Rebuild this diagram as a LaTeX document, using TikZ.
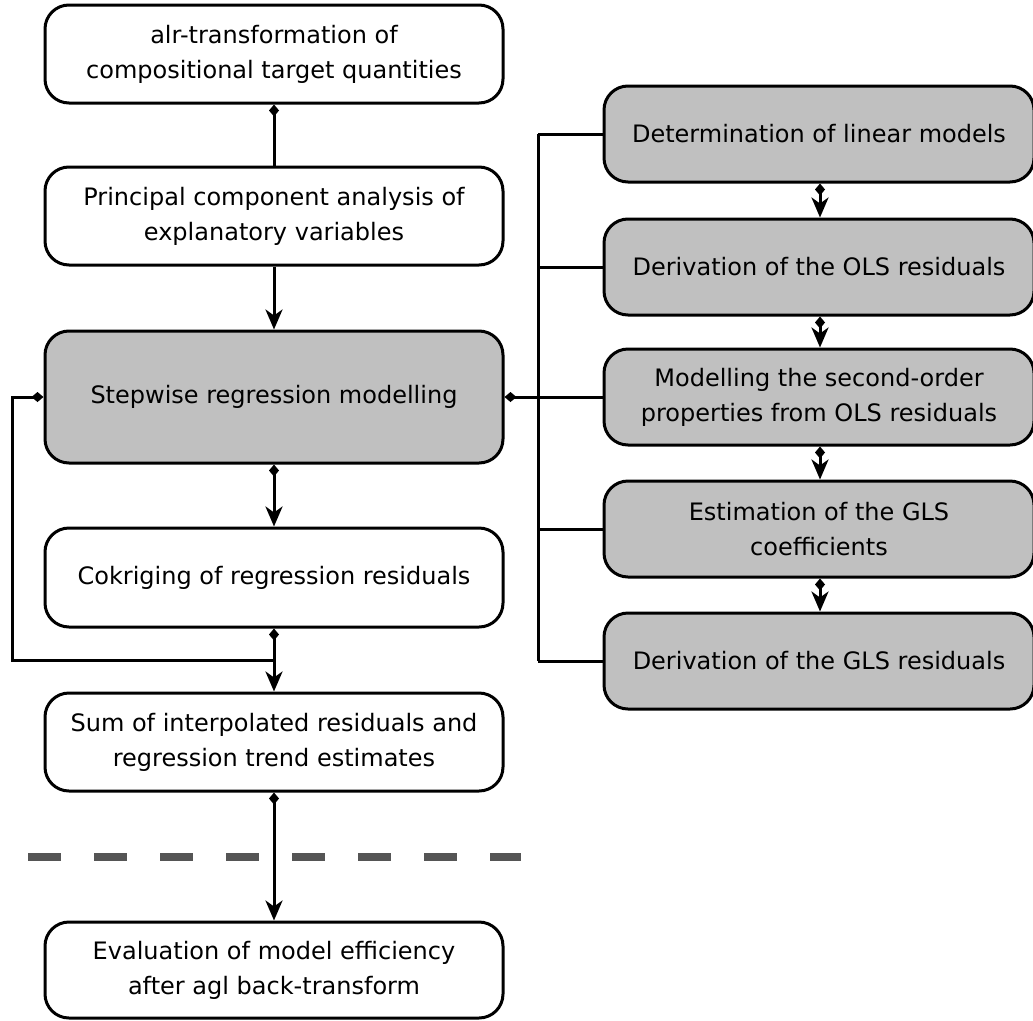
\documentclass[tikz,border=0pt]{standalone}
\usepackage{fontspec}
\setmainfont{DejaVu Sans}
\usetikzlibrary{arrows.meta}
\definecolor{boxgray}{RGB}{192,192,192}
\definecolor{dashgray}{RGB}{85,85,85}
\begin{document}
\begin{tikzpicture}[x=1pt,y=-1pt,
  stepbox/.style={draw=black, line width=3pt, rounded corners=24pt, fill=white,
    align=center, inner sep=0pt, font=\fontsize{24}{35}\selectfont},
  leftbox/.style={stepbox, minimum width=458pt},
  rightbox/.style={stepbox, minimum width=430pt, minimum height=96pt, fill=boxgray},
  link/.style={line width=3pt},
  arrowhead/.style={link, -{Stealth[length=20pt,width=17pt,inset=6pt]}},
  tailmark/.style={{Diamond[length=12pt,width=10pt]}-},
  tailarrow/.style={link, {Diamond[length=12pt,width=10pt]}-{Stealth[length=20pt,width=17pt,inset=6pt]}},
  endmark/.style={link, -{Diamond[length=12pt,width=10pt]}}
]
\useasboundingbox (0,0) rectangle (1033,1020);

% left column
\node[leftbox, minimum height=98pt] (alr) at (274,54) {alr-transformation of\\compositional target quantities};
\node[leftbox, minimum height=98pt] (pca) at (274,216) {Principal component analysis of\\explanatory variables};
\node[leftbox, minimum height=132pt, fill=boxgray] (swr) at (274,397) {Stepwise regression modelling};
\node[leftbox, minimum height=99pt] (ck) at (274,577.5) {Cokriging of regression residuals};
\node[leftbox, minimum height=98pt] (sum) at (274,742) {Sum of interpolated residuals and\\regression trend estimates};
\node[leftbox, minimum height=96pt] (eval) at (274,970) {Evaluation of model efficiency\\after agl back-transform};

% right column
\node[rightbox] (r1) at (819,134) {Determination of linear models};
\node[rightbox] (r2) at (819,267) {Derivation of the OLS residuals};
\node[rightbox] (r3) at (819,397) {Modelling the second-order\\properties from OLS residuals};
\node[rightbox] (r4) at (819,529) {Estimation of the GLS\\coefficients};
\node[rightbox] (r5) at (819,661) {Derivation of the GLS residuals};

% separator
\draw[dashgray, line width=8pt, dash pattern=on 33pt off 33pt] (28,857) -- (521,857);

% main flow
\draw[link, tailmark] (alr.south) -- (pca.north);
\draw[arrowhead] (pca.south) -- (swr.north);
\draw[tailarrow] (swr.south) -- (ck.north);
\draw[tailarrow] (ck.south) -- (sum.north);
\draw[tailarrow] (sum.south) -- (eval.north);

% feedback loop into the regression step
\coordinate (join) at (274,660);
\coordinate (loop) at (12,660);
\draw[endmark] (join) -- (loop) |- (swr.west);

% bus to the right column
\coordinate (bus) at (538,397);
\draw[link, tailmark] (swr.east) -- (bus);
\draw[link] (bus |- r1.west) -- (bus |- r5.west);
\foreach \n in {r1,r2,r3,r4,r5}
  \draw[link] (bus |- \n.west) -- (\n.west);

% right column flow
\draw[tailarrow] ([xshift=1pt]r1.south) -- ([xshift=1pt]r2.north);
\draw[tailarrow] ([xshift=1pt]r2.south) -- ([xshift=1pt]r3.north);
\draw[tailarrow] ([xshift=1pt]r3.south) -- ([xshift=1pt]r4.north);
\draw[tailarrow] ([xshift=1pt]r4.south) -- ([xshift=1pt]r5.north);
\end{tikzpicture}
\end{document}
